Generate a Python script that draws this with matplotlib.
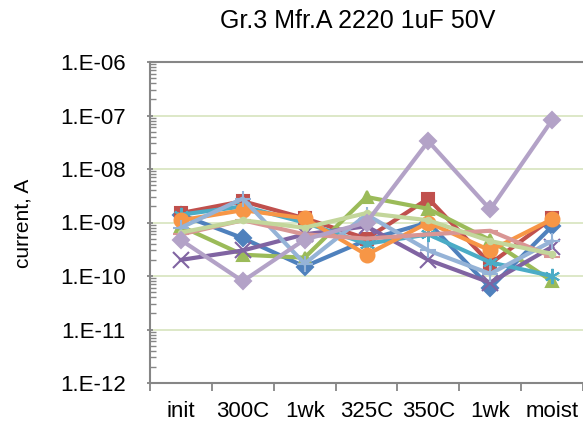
import matplotlib.pyplot as plt
import numpy as np
from matplotlib.ticker import LogLocator, FixedLocator, NullFormatter, FuncFormatter

plt.rcParams['font.family'] = ['Liberation Sans', 'DejaVu Sans']

categories = ['init', '300C', '1wk', '325C', '350C', '1wk', 'moist']
y_decades = [1e-12, 1e-11, 1e-10, 1e-9, 1e-8, 1e-7, 1e-6]

# leakage current per part, A
s1 = [1.4e-9, 5.1e-10, 1.5e-10, 4.7e-10, 1.0e-9, 6.0e-11, 8.5e-10]
s2 = [1.5e-9, 2.5e-9, 1.2e-9, 5.0e-10, 2.8e-9, 1.7e-10, 1.2e-9]
s3 = [8.5e-10, 2.5e-10, 2.2e-10, 3.0e-9, 1.8e-9, 4.7e-10, 8.0e-11]
s4 = [2.0e-10, 3.0e-10, 6.0e-10, 8.5e-10, 2.0e-10, 7.5e-11, 3.5e-10]
s5 = [1.4e-9, 2.0e-9, 1.0e-9, 4.0e-10, 6.0e-10, 1.8e-10, 1.0e-10]
s6 = [1.1e-9, 1.7e-9, 1.2e-9, 2.5e-10, 1.0e-9, 3.0e-10, 1.15e-9]
s7 = [8.0e-10, 2.8e-9, 1.7e-10, 1.4e-9, 3.0e-10, 1.1e-10, 4.5e-10]
s8 = [6.0e-10, 1.1e-9, 6.0e-10, 5.0e-10, 6.0e-10, 7.0e-10, 2.3e-10]
s9 = [6.5e-10, 1.1e-9, 8.0e-10, 1.5e-9, 1.1e-9, 4.5e-10, 2.6e-10]
s10 = [4.7e-10, 8.0e-11, 4.8e-10, 1.0e-9, 3.3e-8, 1.75e-9, 8.2e-8]

series = [s1, s2, s3, s4, s5, s6, s7, s8, s9, s10]
colors = ['#4F81BD', '#C0504D', '#9BBB59', '#8064A2', '#4BACC6',
          '#F79646', '#95B3D7', '#D99694', '#C3D69B', '#B3A2C7']
markers = ['D', 's', '^', 'x', (6, 2, 0), 'o', '+', '_', '.', 'D']

fig = plt.figure(figsize=(5.83, 4.26), dpi=100)
ax = fig.add_axes([150/583, 1 - 383/426, 1 - 150/583, (383 - 62)/426])

x = np.arange(len(categories))
for vals, c, m in zip(series, colors, markers):
    ms = 8
    if m == 'o':
        ms = 10
    elif m in ('x', '+', '_') or isinstance(m, tuple):
        ms = 11
    ax.plot(x, vals, color=c, lw=3, marker=m, markersize=ms,
            markerfacecolor=c, markeredgecolor=c, markeredgewidth=1.5,
            clip_on=False, zorder=3)

ax.set_yscale('log')
ax.set_ylim(y_decades[0], y_decades[-1])
ax.set_xlim(-0.5, len(categories) - 0.5)

ax.yaxis.set_major_locator(FixedLocator(y_decades))
ax.yaxis.set_major_formatter(FuncFormatter(lambda v, p: '1.E%03d' % int(round(np.log10(v)))))
ax.yaxis.set_minor_locator(LogLocator(base=10, subs=np.arange(2, 10), numticks=20))
ax.yaxis.set_minor_formatter(NullFormatter())
ax.yaxis.grid(True, which='major', color='#D7E4BD', lw=1.2)
ax.set_axisbelow(True)

ax.xaxis.set_major_locator(FixedLocator(x))
ax.set_xticklabels(categories)
ax.xaxis.set_minor_locator(FixedLocator(np.arange(-0.5, len(categories), 1.0)))
ax.tick_params(axis='x', which='major', length=0, pad=13, labelsize=16)
ax.tick_params(axis='x', which='minor', length=6, width=1.3, color='#868686', direction='out')
ax.tick_params(axis='y', which='major', length=5, width=1.3, color='#868686', direction='inout', labelsize=16, pad=15)
ax.tick_params(axis='y', which='minor', length=4, width=1, color='#868686', direction='in')

for side in ['left', 'bottom', 'top']:
    ax.spines[side].set_color('#868686')
    ax.spines[side].set_linewidth(1.5)
ax.spines['right'].set_visible(False)

fig.text(23/583, 1 - 223/426, 'current, A', rotation=90, ha='center', va='center', fontsize=15)
fig.text(358/583, 1 - 21.5/426, 'Gr.3 Mfr.A 2220 1uF 50V', ha='center', va='center', fontsize=18)

fig.savefig('out.png', dpi=100)
